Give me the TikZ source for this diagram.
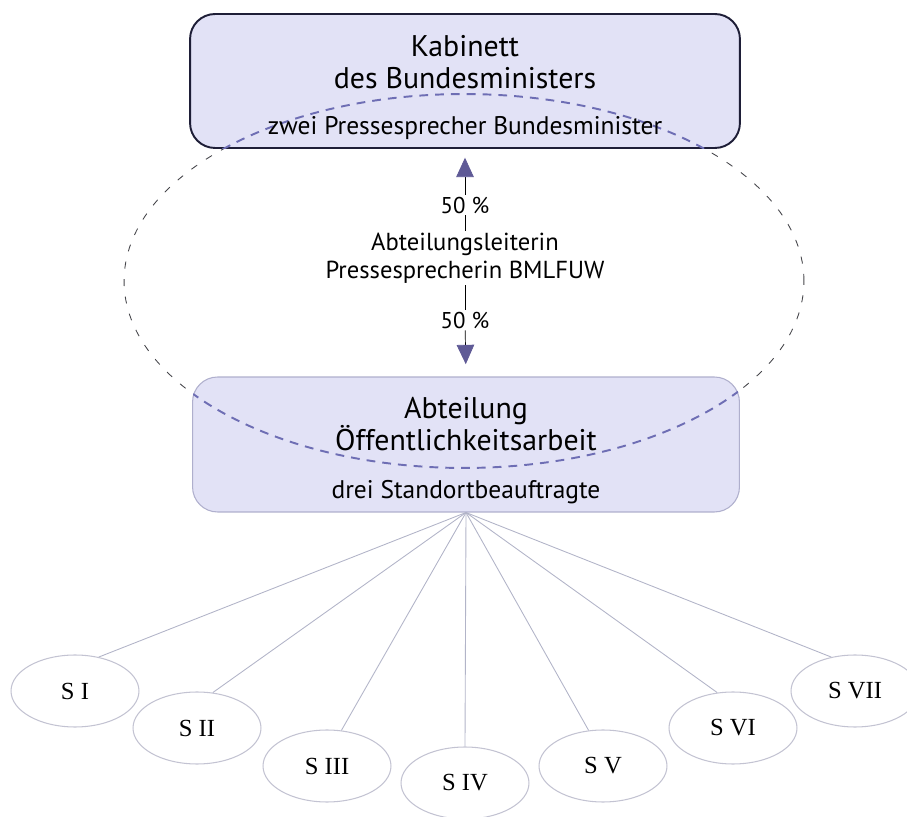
\documentclass[tikz,border=0pt]{standalone}
\usepackage{fontspec}
\setmainfont{PT Sans}
\newfontfamily\romfont{Liberation Serif}
\usetikzlibrary{arrows.meta, positioning, shapes.geometric}
\definecolor{boxfill}{RGB}{226,226,246}
\definecolor{boxdark}{RGB}{30,30,55}
\definecolor{boxlight}{RGB}{175,175,205}
\definecolor{arrowc}{RGB}{95,90,150}
\definecolor{dashgrey}{RGB}{70,70,75}
\definecolor{dashblue}{RGB}{110,110,180}
\definecolor{fanline}{RGB}{178,180,200}
\definecolor{sline}{RGB}{195,195,210}
\tikzset{
  topbox/.style={rectangle, draw=boxdark, fill=boxfill,
    minimum width=11cm, minimum height=2.68cm,
    rounded corners=0.5cm, line width=1.1pt},
  lowbox/.style={rectangle, draw=boxlight, fill=boxfill,
    minimum width=10.94cm, minimum height=2.7cm,
    rounded corners=0.5cm, line width=0.6pt},
  headtext/.style={align=center, font=\fontsize{17}{18}\selectfont, inner sep=1pt},
  subtext/.style={align=center, font=\fontsize{14.5}{17}\selectfont, inner sep=1pt},
  midtext/.style={align=center, font=\fontsize{14}{16}\selectfont, inner sep=1pt},
  pctext/.style={font=\fontsize{13}{15}\selectfont, inner sep=1pt},
  snode/.style={ellipse, draw=sline, minimum width=2.56cm, minimum height=1.44cm,
    font=\romfont\fontsize{14}{16}\selectfont, line width=0.6pt},
  arrow/.style={-{Triangle[length=11pt, width=10pt, color=arrowc]}, thin, color=black},
  fan/.style={draw=fanline, line width=0.5pt},
  outerdash/.style={dash pattern=on 4pt off 6pt, draw=dashgrey, line width=0.5pt},
  innerdash/.style={dash pattern=on 5pt off 4pt, draw=dashblue, line width=1.1pt}
}
\begin{document}
\begin{tikzpicture}[x=0.02cm, y=-0.02cm]
  \useasboundingbox (0,0) rectangle (907,817);
  % dashed ring behind the boxes
  \draw[outerdash] (464,281) ellipse [x radius=6.8cm, y radius=3.74cm];
  \node[topbox] (kab) at (465,81) {};
  \node[lowbox] (abt) at (466,444.5) {};
  % ring inside the boxes
  \begin{scope}
    \clip[rounded corners=0.5cm] (kab.south west) rectangle (kab.north east);
    \draw[innerdash] (464,281) ellipse [x radius=6.8cm, y radius=3.74cm];
  \end{scope}
  \begin{scope}
    \clip[rounded corners=0.5cm] (abt.south west) rectangle (abt.north east);
    \draw[innerdash] (464,281) ellipse [x radius=6.8cm, y radius=3.74cm];
  \end{scope}
  \node[headtext] (kabt) at (465,62) {Kabinett\\des Bundesministers};
  \node[subtext] (kabs) at (465,128) {zwei Pressesprecher Bundesminister};
  \node[headtext] (abtt) at (466,424) {Abteilung\\Öffentlichkeitsarbeit};
  \node[subtext] (abts) at (466,492) {drei Standortbeauftragte};
  % Abteilungsleiterin in the middle
  \node[midtext] (leit) at (465,258) {Abteilungsleiterin\\Pressesprecherin BMLFUW};
  \node[pctext] (pup) at (465,205) {50 \%};
  \node[pctext] (pdown) at (465,320) {50 \%};
  \draw[thin] (leit) -- (pup);
  \draw[thin] (leit) -- (pdown);
  \draw[arrow, shorten >=5pt] (pup) -- (kab.south);
  \draw[arrow, shorten >=7pt] (pdown) -- (abt.north);
  % Standorte
  \node[snode] (s1) at (75,691) {S I};
  \node[snode] (s2) at (197,728) {S II};
  \node[snode] (s3) at (327,766) {S III};
  \node[snode] (s4) at (465,783) {S IV};
  \node[snode] (s5) at (603,766) {S V};
  \node[snode] (s6) at (733,728) {S VI};
  \node[snode] (s7) at (855,691) {S VII};
  \draw[fan] (abt.south) -- (s1.55);
  \draw[fan] (abt.south) -- (s2.66);
  \draw[fan] (abt.south) -- (s3.68);
  \draw[fan] (abt.south) -- (s4.north);
  \draw[fan] (abt.south) -- (s5.112);
  \draw[fan] (abt.south) -- (s6.114);
  \draw[fan] (abt.south) -- (s7.125);
\end{tikzpicture}
\end{document}
